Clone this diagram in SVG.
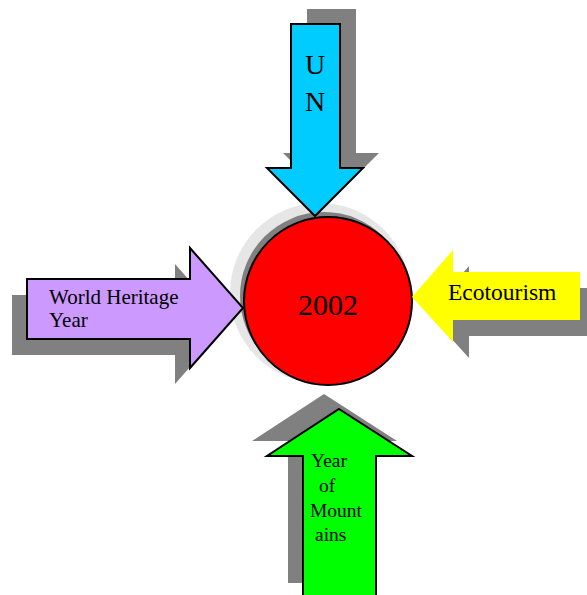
<svg xmlns="http://www.w3.org/2000/svg" width="587" height="595" viewBox="0 0 587 595">
<style>
.sh{fill:#808080;stroke:none}
.ar{stroke:#000;stroke-width:2;stroke-linejoin:miter}
.t{font-family:"Liberation Serif","Times New Roman",serif;fill:#000}
</style>
<rect width="587" height="595" fill="#fff"/>
<g id="shadows">
<polygon class="sh" transform="translate(16,-15)" points="291,24 340,24 340,168 363,168 315,216 267,168 291,168"/>
<polygon class="sh" transform="translate(-15,16)" points="27,279 190,279 190,248 243,308 190,368 190,339 27,339"/>
<polygon class="sh" transform="translate(16,16)" points="412,297 453,250 453,272 600,272 600,320 453,320 453,342"/>
<polygon class="sh" transform="translate(-15,-15)" points="339,409 412,456 376,456 376,598 303,598 303,456 267,456"/>
</g>
<g id="node-2002">
<circle cx="320" cy="293" r="90" fill="#e6e6e6"/>
<circle cx="324" cy="296" r="84" fill="#808080"/>
<circle cx="328" cy="301" r="84" fill="#ff0000" stroke="#000" stroke-width="2"/>
<text class="t" x="328" y="315" font-size="30" text-anchor="middle">2002</text>
</g>
<g id="node-un">
<polygon class="ar" fill="#00ccff" points="291,24 340,24 340,168 363,168 315,216 267,168 291,168"/>
<text class="t" x="315" y="74" font-size="28" text-anchor="middle">U</text>
<text class="t" x="315" y="111" font-size="28" text-anchor="middle">N</text>
</g>
<g id="node-world-heritage">
<polygon class="ar" fill="#cc99ff" points="27,279 190,279 190,248 243,308 190,368 190,339 27,339"/>
<text class="t" x="49" y="304" font-size="21">World Heritage</text>
<text class="t" x="49" y="327" font-size="21">Year</text>
</g>
<g id="node-ecotourism">
<polygon fill="#ffff00" points="412,297 453,250 453,272 580,272 580,320 453,320 453,342"/>
<text class="t" x="448" y="300" font-size="23.5">Ecotourism</text>
</g>
<g id="node-mountains">
<polygon class="ar" fill="#00ff00" points="339,409 412,456 376,456 376,600 303,600 303,456 267,456"/>
<text class="t" x="311" y="467" font-size="19.5">Year</text>
<text class="t" x="319" y="492" font-size="19.5">of</text>
<text class="t" x="310" y="517" font-size="19.5">Mount</text>
<text class="t" x="315" y="541" font-size="19.5">ains</text>
</g>
<g id="connectors"></g>
</svg>
